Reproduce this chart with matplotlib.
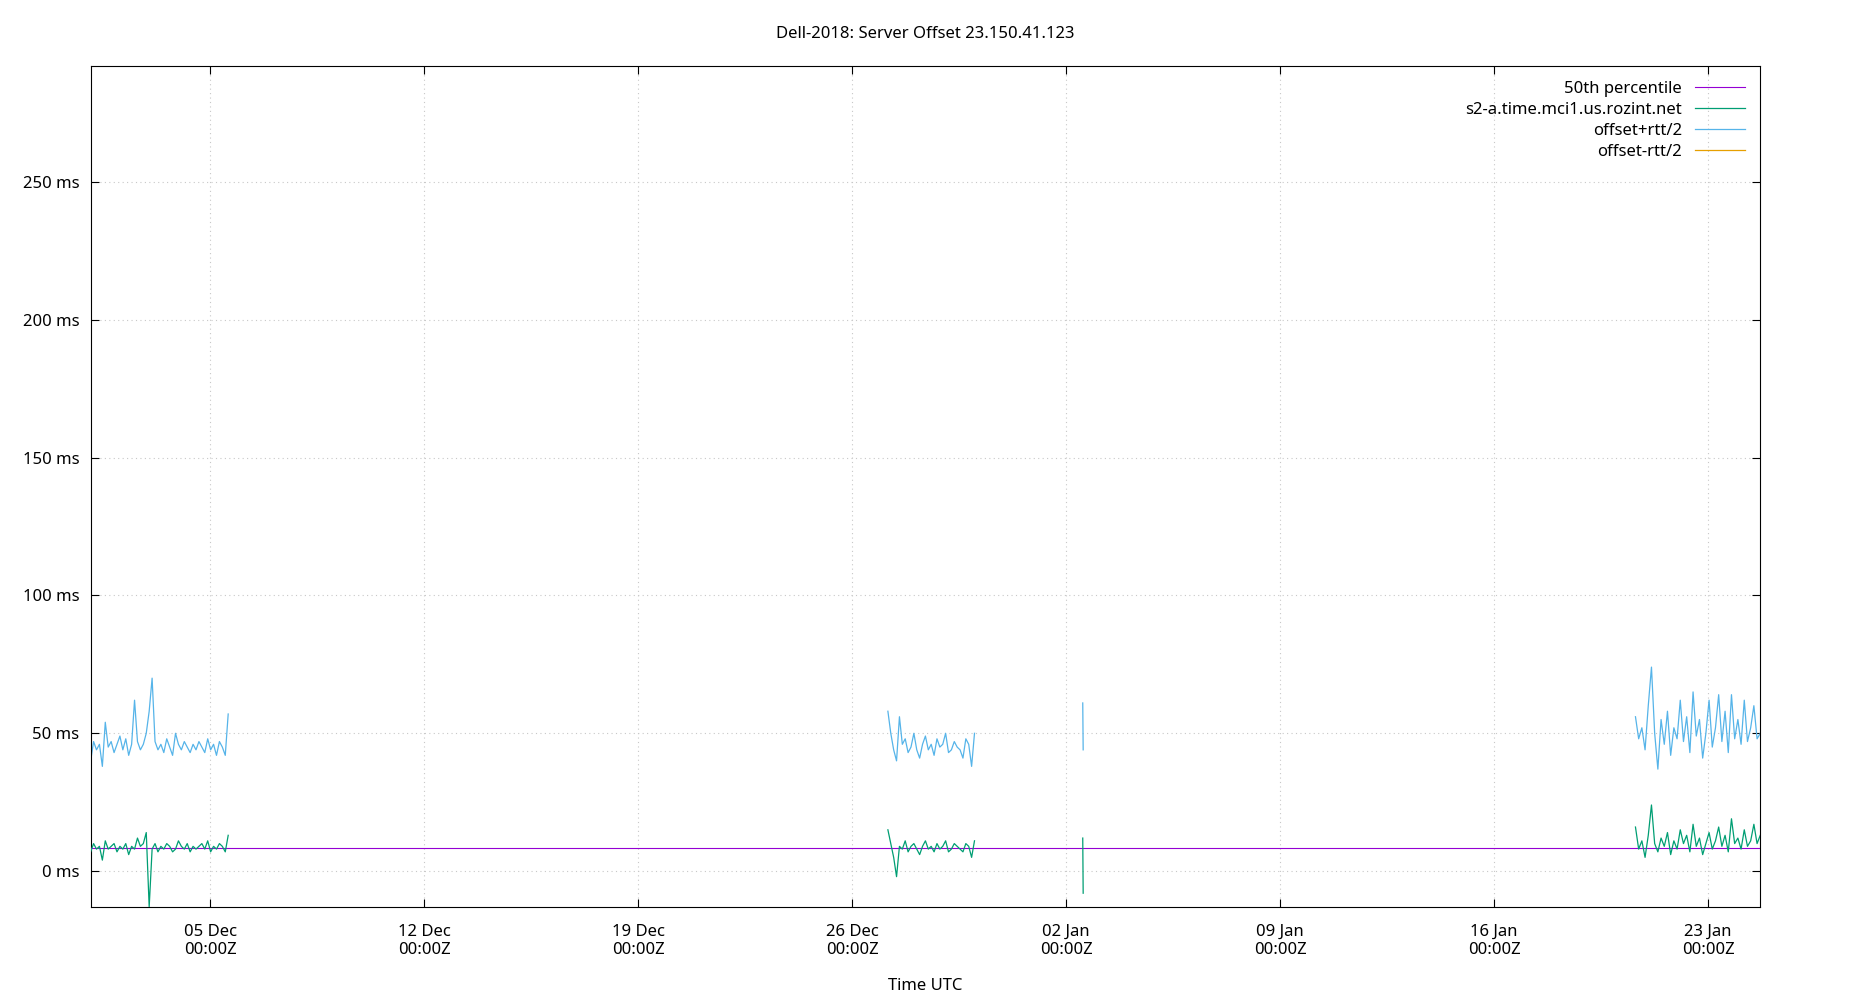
import numpy as np
import pandas as pd
import matplotlib.pyplot as plt
import matplotlib.dates as mdates

plt.rcParams['font.family'] = ['Noto Sans', 'DejaVu Sans']

# segment 1: 01 Dec 02:00 -> 05 Dec 14:00
seg1_off = [7, 10, 8, 9, 4, 11, 8, 9, 10, 7, 9, 8, 10, 6, 9, 8, 12, 9, 10, 14, -13, 8, 10, 7, 9, 8,
            10, 9, 7, 8, 11, 9, 8, 10, 7, 9, 8, 9, 10, 8, 11, 7, 9, 8, 10, 9, 7, 13]
seg1_up = [40, 47, 44, 46, 38, 54, 45, 47, 43, 46, 49, 44, 48, 42, 46, 62, 47, 44, 46, 50, 58, 70, 47,
           44, 46, 43, 48, 45, 42, 50, 46, 44, 47, 45, 43, 46, 44, 47, 45, 43, 48, 44, 46, 42, 47, 45, 42, 57]
# segment 2: 27 Dec 04:00 -> 30 Dec 00:00
seg2_off = [15, 10, 5, -2, 9, 8, 11, 7, 9, 10, 8, 6, 9, 11, 8, 9, 7, 10, 8, 9, 11, 7, 8, 10, 9, 8,
            7, 10, 9, 5, 11]
seg2_up = [58, 50, 44, 40, 56, 46, 48, 43, 45, 50, 44, 41, 46, 49, 44, 46, 42, 48, 45, 46, 50, 43, 44,
           47, 45, 44, 41, 48, 46, 38, 50]
# spike: 02 Jan 13:00
seg3_off = [12, -8]
seg3_up = [61, 44]
# segment 4: 20 Jan 15:00 -> 24 Jan 17:00
seg4_off = [16, 8, 11, 5, 13, 24, 10, 7, 12, 9, 14, 6, 11, 8, 15, 10, 13, 7, 17, 9, 12, 6, 10, 14,
            8, 11, 16, 9, 13, 7, 19, 10, 12, 8, 15, 9, 11, 17, 10, 13]
seg4_up = [56, 48, 52, 44, 60, 74, 50, 37, 55, 46, 58, 42, 52, 48, 62, 47, 56, 43, 65, 49, 55, 41,
           50, 62, 45, 52, 64, 47, 58, 43, 64, 48, 55, 46, 62, 47, 52, 60, 48, 50]
seg_times = [("2018-12-01 02:00", "2018-12-05 14:00"), ("2018-12-27 04:00", "2018-12-30 00:00"),
             ("2019-01-02 13:00", "2019-01-02 13:20"), ("2019-01-20 15:00", "2019-01-24 17:00")]
median_ms = 8.5

offs = [seg1_off, seg2_off, seg3_off, seg4_off]
ups = [seg1_up, seg2_up, seg3_up, seg4_up]

fig = plt.figure(figsize=(18.5, 10), dpi=100)
ax = fig.add_axes([0.049, 0.093, 0.9025, 0.841])

for i, ((t0, t1), off, up) in enumerate(zip(seg_times, offs, ups)):
    t = pd.date_range(t0, t1, periods=len(off))
    off = np.array(off, dtype=float)
    up = np.array(up, dtype=float)
    low = 2 * off - up
    ax.plot(t, up, color="#56b4e9", lw=0.9, label="offset+rtt/2" if i == 0 else None, zorder=2)
    ax.plot(t, low, color="#e69f00", lw=0.9, label="offset-rtt/2" if i == 0 else None, zorder=2)
    ax.plot(t, off, color="#009e73", lw=0.9, label="s2-a.time.mci1.us.rozint.net" if i == 0 else None, zorder=4)

ax.plot(pd.to_datetime([seg_times[0][0], seg_times[-1][1]]), [median_ms, median_ms],
        color="#9400d3", lw=0.8, label="50th percentile", zorder=3)

h, l = ax.get_legend_handles_labels()
order = [l.index("50th percentile"), l.index("s2-a.time.mci1.us.rozint.net"),
         l.index("offset+rtt/2"), l.index("offset-rtt/2")]
ax.legend([h[k] for k in order], [l[k] for k in order], loc="upper right", frameon=False,
          markerfirst=False, fontsize=12, handlelength=3, labelspacing=0.3)

ax.set_xlim(pd.Timestamp("2018-12-01 02:00"), pd.Timestamp("2019-01-24 17:00"))
ax.set_ylim(-13, 292)
ax.set_xticks(pd.date_range("2018-12-05", "2019-01-23", freq="7D"))
ax.xaxis.set_major_formatter(mdates.DateFormatter("%d %b\n%H:%MZ"))
ax.set_yticks([0, 50, 100, 150, 200, 250])
ax.set_yticklabels([f"{v} ms" for v in [0, 50, 100, 150, 200, 250]])
ax.tick_params(direction="in", top=True, right=True, labelsize=12, length=6)
ax.tick_params(axis="x", pad=12)
ax.tick_params(axis="y", pad=8)
ax.grid(True, color="#c8c8c8", linestyle=(0, (1, 3)), lw=0.8)
ax.set_title("Dell-2018: Server Offset 23.150.41.123", fontsize=12, pad=20)
ax.set_xlabel("Time UTC", fontsize=12, labelpad=14)

fig.savefig("out.png")
